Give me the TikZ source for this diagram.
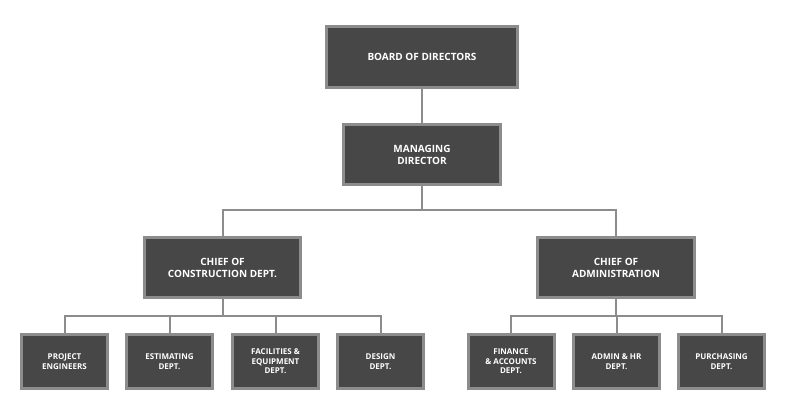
\documentclass[tikz,border=0pt]{standalone}
\usepackage{fontspec}
\setmainfont{Open Sans}
\begin{document}
\begin{tikzpicture}[x=1pt,y=-1pt,
  box/.style={draw=black!45,line width=3pt,fill=black!72,text=white,font=\bfseries\fontsize{10}{12}\selectfont,align=center,inner sep=0pt},
  small/.style={box,minimum width=86pt,minimum height=54pt,font=\bfseries\fontsize{8}{9.5}\selectfont},
  link/.style={draw=black!45,line width=2pt}]
\useasboundingbox (0,0) rectangle (790,414);
\node[box,minimum width=191pt,minimum height=61pt] (board) at (422,57) {BOARD OF DIRECTORS};
\node[box,minimum width=157pt,minimum height=60pt] (md) at (422,154.5) {MANAGING\\DIRECTOR};
\node[box,minimum width=156pt,minimum height=60pt] (cc) at (222.5,267.5) {CHIEF OF\\CONSTRUCTION DEPT.};
\node[box,minimum width=157pt,minimum height=60pt] (ca) at (616,267.5) {CHIEF OF\\ADMINISTRATION};
\node[small] (pe) at (64.5,361.5) {PROJECT\\ENGINEERS};
\node[small] (es) at (169.5,361.5) {ESTIMATING\\DEPT.};
\node[small] (fe) at (275.5,361.5) {FACILITIES \&\\EQUIPMENT\\DEPT.};
\node[small] (de) at (380.5,361.5) {DESIGN\\DEPT.};
\node[small] (fa) at (511,361.5) {FINANCE\\\& ACCOUNTS\\DEPT.};
\node[small] (ah) at (616.5,361.5) {ADMIN \& HR\\DEPT.};
\node[small] (pu) at (721.5,361.5) {PURCHASING\\DEPT.};
\begin{scope}[on background layer/.style={}]
\draw[link] (board.south) -- (md.north);
\draw[link] (md.south) -- ++(0,24.5) -| (cc.north);
\draw[link] (md.south) -- ++(0,24.5) -| (ca.north);
\foreach \n in {pe,es,fe,de} \draw[link] (cc.south) -- ++(0,17) -| (\n.north);
\foreach \n in {fa,ah,pu} \draw[link] (ca.south) -- ++(0,17) -| (\n.north);
\end{scope}
\end{tikzpicture}
\end{document}
